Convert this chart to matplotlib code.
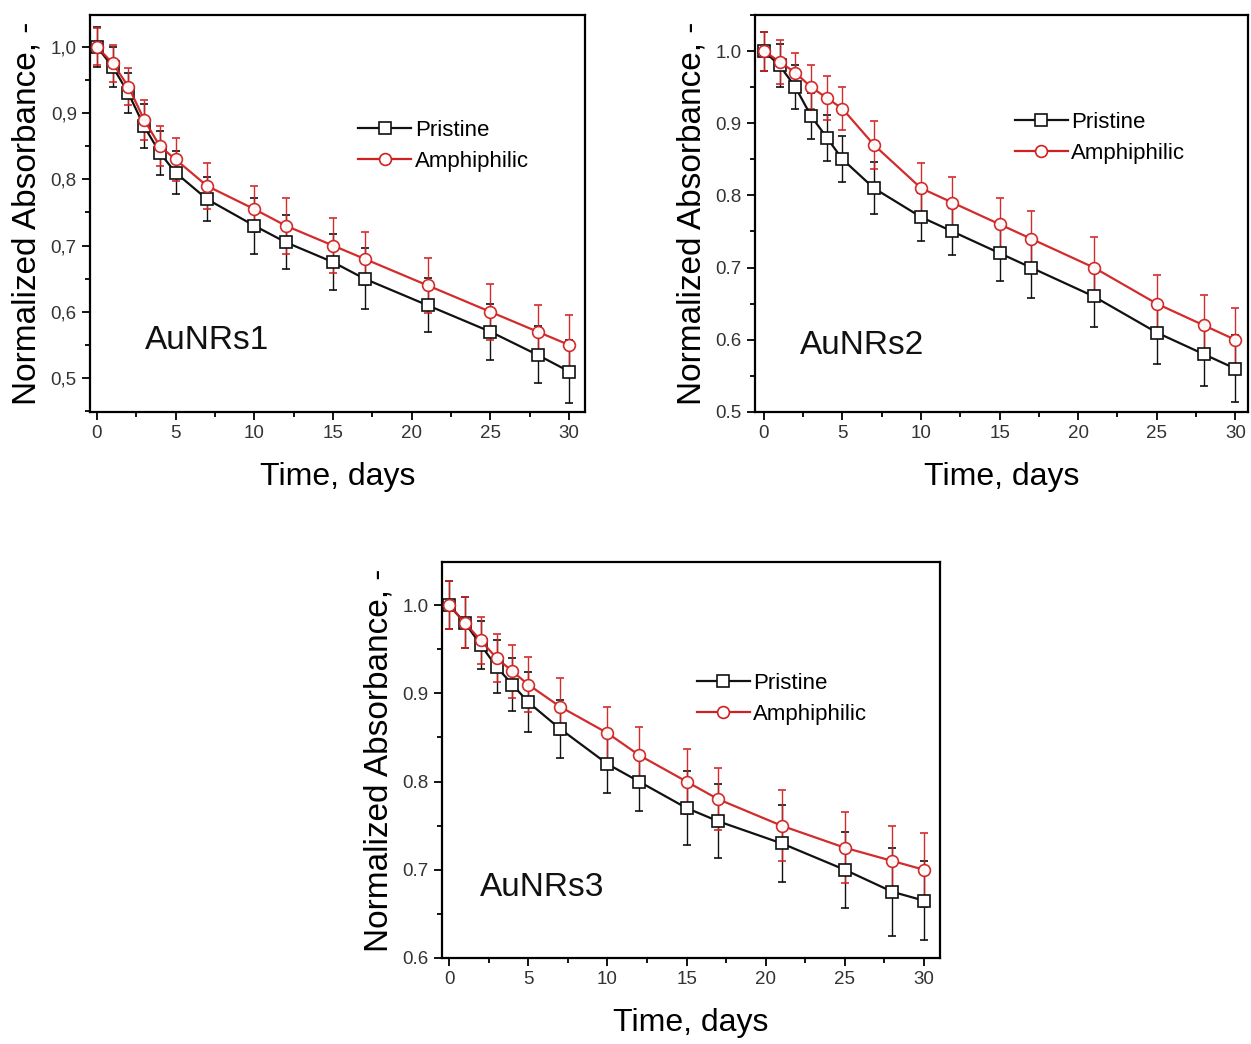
import matplotlib
matplotlib.use("Agg")
import matplotlib.pyplot as plt
from matplotlib.ticker import MultipleLocator, FuncFormatter
from matplotlib.lines import Line2D

plt.rcParams['font.family'] = ['Liberation Sans', 'DejaVu Sans']

days = [0, 1, 2, 3, 4, 5, 7, 10, 12, 15, 17, 21, 25, 28, 30]

pristine1 = [1.0, 0.97, 0.93, 0.88, 0.84, 0.81, 0.77, 0.73, 0.705, 0.675, 0.65, 0.61, 0.57, 0.535, 0.51]
pristine1_err = [0.03, 0.03, 0.03, 0.033, 0.033, 0.032, 0.033, 0.042, 0.041, 0.042, 0.046, 0.041, 0.042, 0.043, 0.048]
amph1 = [1.0, 0.975, 0.94, 0.89, 0.85, 0.83, 0.79, 0.755, 0.73, 0.70, 0.68, 0.64, 0.60, 0.57, 0.55]
amph1_err = [0.028, 0.028, 0.028, 0.03, 0.03, 0.032, 0.035, 0.035, 0.042, 0.042, 0.04, 0.042, 0.042, 0.04, 0.045]

pristine2 = [1.0, 0.98, 0.95, 0.91, 0.88, 0.85, 0.81, 0.77, 0.75, 0.72, 0.70, 0.66, 0.61, 0.58, 0.56]
pristine2_err = [0.027, 0.03, 0.03, 0.032, 0.032, 0.032, 0.036, 0.033, 0.033, 0.038, 0.042, 0.042, 0.043, 0.044, 0.046]
amph2 = [1.0, 0.985, 0.97, 0.95, 0.935, 0.92, 0.87, 0.81, 0.79, 0.76, 0.74, 0.70, 0.65, 0.62, 0.60]
amph2_err = [0.027, 0.03, 0.027, 0.03, 0.03, 0.03, 0.033, 0.035, 0.036, 0.037, 0.039, 0.042, 0.04, 0.042, 0.044]

pristine3 = [1.0, 0.98, 0.955, 0.93, 0.91, 0.89, 0.86, 0.82, 0.80, 0.77, 0.755, 0.73, 0.70, 0.675, 0.665]
pristine3_err = [0.027, 0.029, 0.027, 0.03, 0.03, 0.034, 0.033, 0.033, 0.033, 0.042, 0.042, 0.044, 0.043, 0.05, 0.045]
amph3 = [1.0, 0.98, 0.96, 0.94, 0.925, 0.91, 0.885, 0.855, 0.83, 0.80, 0.78, 0.75, 0.725, 0.71, 0.70]
amph3_err = [0.027, 0.029, 0.027, 0.027, 0.03, 0.031, 0.032, 0.03, 0.032, 0.037, 0.035, 0.04, 0.04, 0.04, 0.042]

panel_labels = ["AuNRs1", "AuNRs2", "AuNRs3"]
series_names = ["Pristine", "Amphiphilic"]
xticks = [0, 5, 10, 15, 20, 25, 30]

BLACK = "#111111"
RED = "#d02020"

fig = plt.figure(figsize=(12.51, 10.44), dpi=100)

panels = [
    dict(rect=[0.0719, 0.6054, 0.3957, 0.3803], p=pristine1, pe=pristine1_err, a=amph1, ae=amph1_err,
         ylim=(0.449, 1.048), xlim=(-0.44, 31.0), yt=[0.5, 0.6, 0.7, 0.8, 0.9, 1.0], comma=True,
         lab=(0.111, 0.179), leg=(0.51, 0.775)),
    dict(rect=[0.6035, 0.6054, 0.394, 0.3803], p=pristine2, pe=pristine2_err, a=amph2, ae=amph2_err,
         ylim=(0.5, 1.05), xlim=(-0.57, 30.8), yt=[0.5, 0.6, 0.7, 0.8, 0.9, 1.0], comma=False,
         lab=(0.091, 0.167), leg=(0.495, 0.795)),
    dict(rect=[0.3533, 0.0824, 0.398, 0.3793], p=pristine3, pe=pristine3_err, a=amph3, ae=amph3_err,
         ylim=(0.6, 1.049), xlim=(-0.45, 31.0), yt=[0.6, 0.7, 0.8, 0.9, 1.0], comma=False,
         lab=(0.076, 0.177), leg=(0.48, 0.76)),
]

for i, pn in enumerate(panels):
    ax = fig.add_axes(pn['rect'])
    ax.errorbar(days, pn['p'], yerr=pn['pe'], color=BLACK, ecolor=BLACK, elinewidth=1.0, capsize=3,
                capthick=1.0, lw=1.6, marker='s', ms=8, mfc='white', mec=BLACK, mew=1.2, zorder=3)
    ax.errorbar(days, pn['a'], yerr=pn['ae'], color=RED, ecolor=RED, elinewidth=1.0, capsize=3,
                capthick=1.0, lw=1.6, marker='o', ms=8.5, mfc='white', mec=RED, mew=1.2,
                zorder=3, alpha=0.95)
    ax.set_xlim(*pn['xlim'])
    ax.set_ylim(*pn['ylim'])
    ax.set_xticks(xticks)
    ax.xaxis.set_minor_locator(MultipleLocator(2.5))
    ax.set_yticks(pn['yt'])
    ax.yaxis.set_minor_locator(MultipleLocator(0.05))
    if pn['comma']:
        ax.yaxis.set_major_formatter(FuncFormatter(lambda v, p: f"{v:.1f}".replace('.', ',')))
    else:
        ax.yaxis.set_major_formatter(FuncFormatter(lambda v, p: f"{v:.1f}"))
    ax.tick_params(which='both', direction='out', top=False, right=False, labelsize=13.5,
                   labelcolor='#333333', width=1.3)
    ax.tick_params(which='major', length=6)
    ax.tick_params(which='minor', length=3.5)
    for s in ax.spines.values():
        s.set_linewidth(1.6)
    ax.set_xlabel("Time, days", fontsize=23, labelpad=14)
    ax.set_ylabel("Normalized Absorbance, -", fontsize=24, labelpad=6)
    ax.text(pn['lab'][0], pn['lab'][1], panel_labels[i], transform=ax.transAxes, fontsize=24,
            ha='left', va='center', color='#111111')
    handles = [
        Line2D([], [], color=BLACK, lw=1.6, marker='s', ms=8, mfc='white', mec=BLACK, mew=1.2),
        Line2D([], [], color=RED, lw=1.6, marker='o', ms=8.5, mfc='white', mec=RED, mew=1.2),
    ]
    ax.legend(handles, series_names, loc='upper left', bbox_to_anchor=pn['leg'], frameon=False,
              fontsize=16, handlelength=2.4, handletextpad=0.15, labelspacing=0.45,
              borderpad=0.2, numpoints=1)

fig.savefig("out.png", dpi=100)
